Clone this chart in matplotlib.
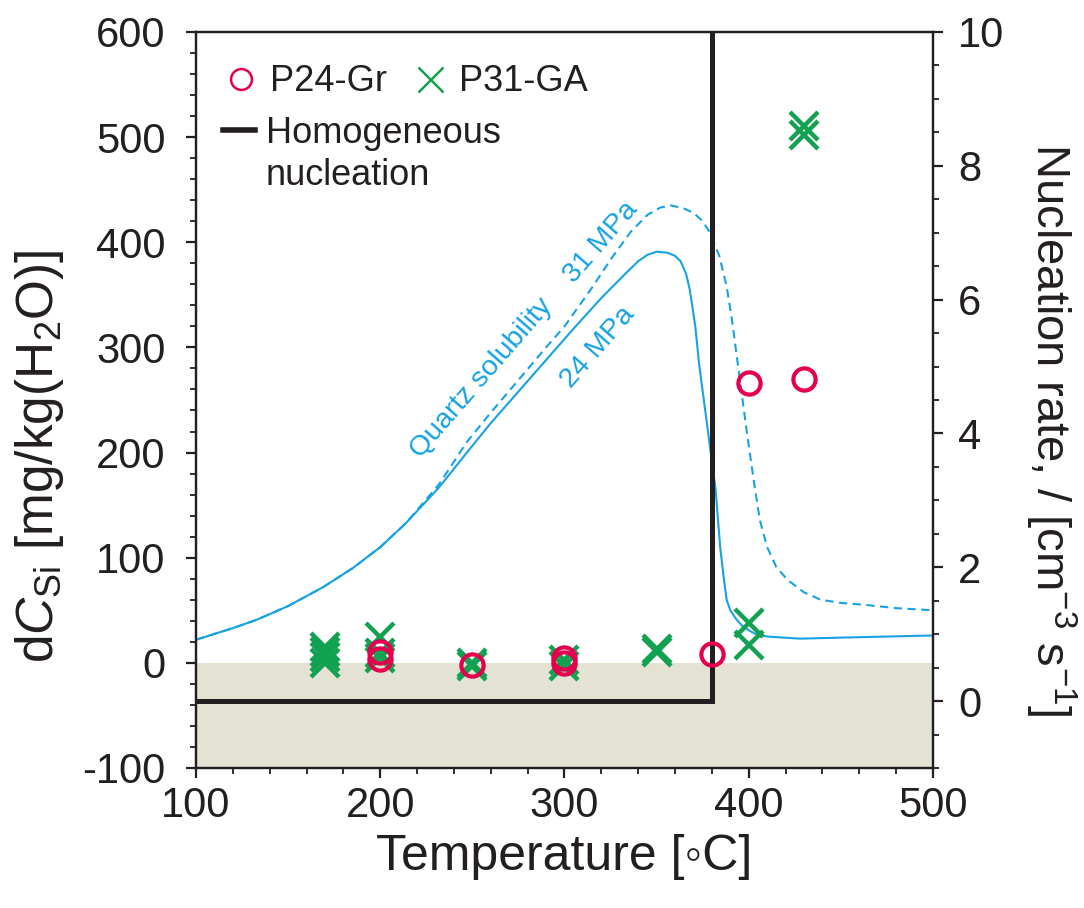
import numpy as np
import matplotlib
matplotlib.use("Agg")
import matplotlib.pyplot as plt
from matplotlib.lines import Line2D
from matplotlib.ticker import MultipleLocator

plt.rcParams['font.family'] = ['Liberation Sans', 'DejaVu Sans']
plt.rcParams['mathtext.fontset'] = 'custom'
plt.rcParams['mathtext.rm'] = 'Liberation Sans'
plt.rcParams['mathtext.it'] = 'Liberation Sans:italic'
plt.rcParams['axes.unicode_minus'] = False

INK = '#231f20'
RED = '#e5004f'
GREEN = '#12a150'
CYAN = '#16a2e4'
SHADE = '#e4e2d3'

# quartz solubility, 24 MPa (solid)
sol24_T = [100, 120, 133, 150, 169, 185, 200, 214, 232, 247, 260, 275, 290,
           305, 320, 333, 340, 345, 350, 356, 360, 363, 366, 368, 371, 373,
           376, 379, 382, 384.5, 386.5, 388, 390, 393, 397, 403, 410, 428,
           450, 475, 500]
sol24_C = [22, 33, 41, 54, 72, 90, 110, 133, 167, 200, 228, 258, 288,
           318, 347, 370, 382, 388, 391, 390, 387, 382, 370, 355, 320, 285,
           245, 205, 165, 110, 80, 60, 50, 42, 34, 28, 25, 23,
           24, 25, 26]

# quartz solubility, 31 MPa (dashed)
sol31_T = [100, 120, 133, 150, 169, 185, 200, 214, 232, 247, 260, 275, 290,
           300, 315, 326, 336, 345, 352, 358, 365, 370, 375, 379, 384, 388,
           391, 394, 399, 403, 406, 410, 415, 421, 430, 439, 450, 464, 480,
           500]
sol31_C = [22, 33, 41, 54, 72, 90, 110, 133, 170, 210, 238, 269, 300,
           320, 357, 386, 410, 426, 433, 435, 432, 428, 420, 409, 387, 358,
           325, 285, 219, 170, 136, 110, 91, 79, 67, 60, 57, 55, 52,
           50]

# measured silica concentration differences
p24_T = [200, 200, 250, 300, 300, 380, 400, 430]
p24_C = [10, 4, -2, 5, 0, 8, 266, 270]

p31_T = [170, 170, 170, 170, 200, 200, 200, 250, 250, 300, 300, 350, 350,
         400, 400, 430, 430]
p31_C = [15, 10, 6, 0, 25, 9, 5, -3, 0, -3, 3, 10, 13,
         38, 17, 511, 502]

# homogeneous nucleation rate (right axis)
nuc_T = [100, 380, 380]
nuc_J = [0, 0, 10]

fig = plt.figure(figsize=(10.84, 9.08), dpi=100)
ax = fig.add_axes([0.1808, 0.1542, 0.6799, 0.8106])
ax2 = ax.twinx()

ax.set_xlim(100, 500)
ax.set_ylim(-100, 600)
ax2.set_ylim(-1, 10)

ax.axhspan(-100, 0, color=SHADE, lw=0, zorder=0)

ax.plot(sol24_T, sol24_C, color=CYAN, lw=1.5, zorder=2)
ax.plot(sol31_T, sol31_C, color=CYAN, lw=1.5, ls=(0, (4, 2.6)), zorder=2)

# nucleation line lives on the right scale but is drawn under the markers
ax.plot(nuc_T, nuc_J, color=INK, lw=3.6, transform=ax2.transData, zorder=3,
        solid_joinstyle='miter')

ax.plot(p31_T, p31_C, ls='none', marker='x', ms=20, mew=3.2, color=GREEN,
        zorder=4)
ax.plot(p24_T, p24_C, ls='none', marker='o', ms=16, mew=3.0, mfc='none',
        mec=RED, zorder=5)

ax.text(255, 271, 'Quartz solubility', color=CYAN, fontsize=20.5, rotation=49,
        ha='center', va='center', rotation_mode='anchor')
ax.text(320, 400, '31 MPa', color=CYAN, fontsize=20.5, rotation=49,
        ha='center', va='center', rotation_mode='anchor')
ax.text(318, 300, '24 MPa', color=CYAN, fontsize=20.5, rotation=49,
        ha='center', va='center', rotation_mode='anchor')

# legends
h24 = Line2D([], [], ls='none', marker='o', ms=15, mew=1.8, mfc='none', mec=RED)
h31 = Line2D([], [], ls='none', marker='x', ms=18, mew=1.8, color=GREEN)
leg1 = ax.legend([h24, h31], ['P24-Gr', 'P31-GA'], ncol=2, loc='upper left',
                 bbox_to_anchor=(-0.005, 1.0), frameon=False, fontsize=26,
                 handlelength=0.9, handletextpad=0.35, columnspacing=0.75,
                 labelcolor=INK)
ax.add_artist(leg1)
hnuc = Line2D([], [], color=INK, lw=4)
hnone = Line2D([], [], color='none')
ax.legend([hnuc, hnone], ['Homogeneous', 'nucleation'], loc='upper left',
          bbox_to_anchor=(-0.008, 0.93), frameon=False, fontsize=26,
          handlelength=0.9, handletextpad=0.3, labelspacing=0.2,
          labelcolor=INK)

# ticks and spines
for a in (ax, ax2):
    for s in a.spines.values():
        s.set_linewidth(1.6)
        s.set_color(INK)
ax.xaxis.set_major_locator(MultipleLocator(100))
ax.xaxis.set_minor_locator(MultipleLocator(20))
ax.yaxis.set_major_locator(MultipleLocator(100))
ax.yaxis.set_minor_locator(MultipleLocator(20))
ax2.yaxis.set_major_locator(MultipleLocator(2))
ax2.yaxis.set_minor_locator(MultipleLocator(0.5))
for a in (ax, ax2):
    a.tick_params(which='major', direction='out', length=7, width=1.6,
                  color=INK, labelsize=30, labelcolor=INK)
    a.tick_params(which='minor', direction='out', length=4.5, width=1.3,
                  color=INK)
ax.tick_params(axis='x', which='major', pad=6)
ax.tick_params(axis='y', which='major', pad=15)
ax2.tick_params(axis='y', which='major', pad=11)

ax.set_xlabel('Temperature [\u25e6C]', fontsize=36, color=INK, labelpad=6)
ax.set_ylabel(r'd$\mathit{C}_{\mathrm{Si}}$ [mg/kg(H$_2$O)]', fontsize=37,
              color=INK)
ax.yaxis.set_label_coords(-0.176, 0.423)
ax2.set_ylabel('Nucleation rate, / [cm$^{-3}$ s$^{-1}$]', fontsize=34,
               color=INK, rotation=270, va='bottom')
ax2.yaxis.set_label_coords(1.122, 0.459)

fig.savefig('out.png', dpi=100)
